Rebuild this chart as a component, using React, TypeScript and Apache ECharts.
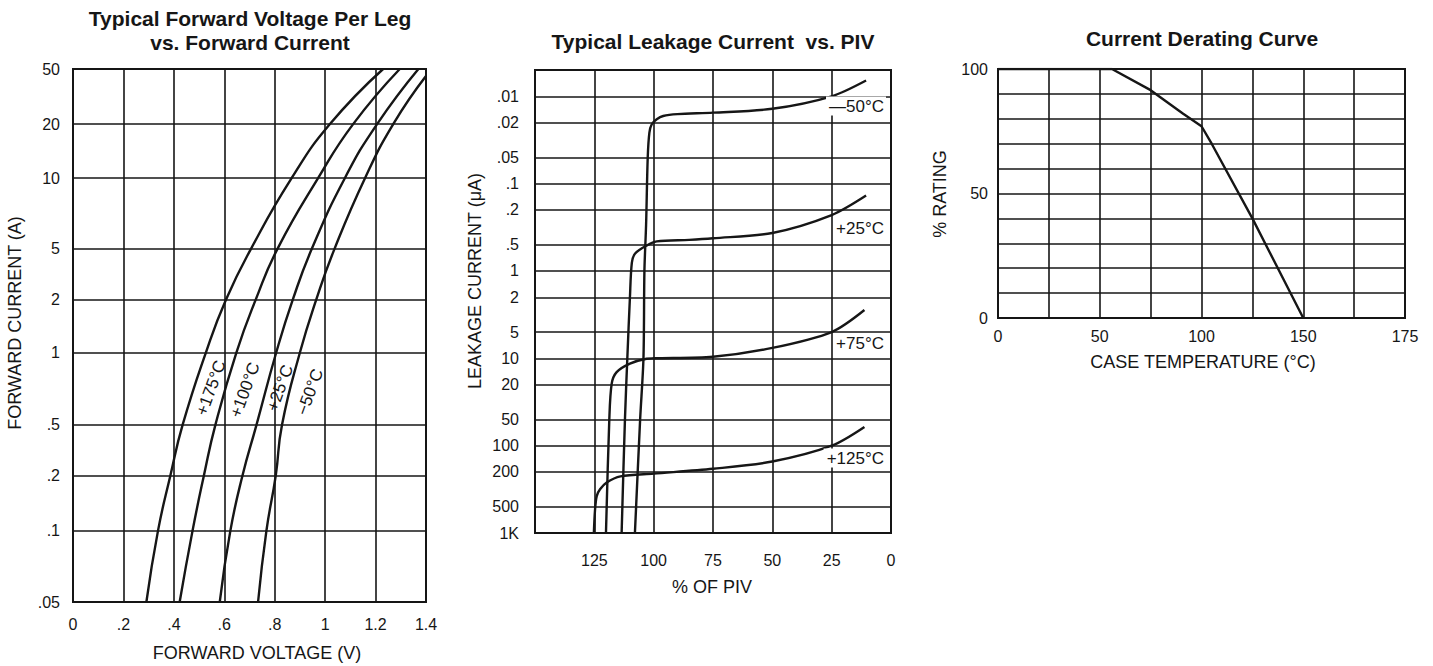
import React, { useEffect, useRef } from 'react';
import * as echarts from 'echarts';

const INK = '#161616';
const FONT = '"Liberation Sans", Arial, sans-serif';

// ---------- Panel 1: Typical Forward Voltage Per Leg vs. Forward Current ----------
const fwdCurrentTicks = [0.05, 0.1, 0.2, 0.5, 1, 2, 5, 10, 20, 50];
const fwdCurrentTickLabels = ['.05', '.1', '.2', '.5', '1', '2', '5', '10', '20', '50'];
const fwdVoltageTickLabels = ['0', '.2', '.4', '.6', '.8', '1', '1.2', '1.4'];
// the printed chart's own (non-uniform) spacing of its current gridlines, axis units
const fwdGridSpacing = [0, 71, 126, 177, 249, 302, 353, 423, 477, 532];

const fwdCurrentPts = [0.05, 0.1, 0.2, 0.5, 1, 2, 5, 10, 20, 50];
const vf175C = [0.291, 0.337, 0.386, 0.435, 0.527, 0.607, 0.707, 0.867, 1.019, 1.23];
const vf100C = [0.423, 0.474, 0.519, 0.565, 0.648, 0.725, 0.812, 0.972, 1.111, 1.296];
const vf25C = [0.582, 0.624, 0.672, 0.728, 0.806, 0.872, 0.948, 1.078, 1.206, 1.37];
const vfM50CCurrent = [0.05, 0.1, 0.2, 0.5, 1, 2, 5, 10, 20, 44.5];
const vfM50C = [0.734, 0.767, 0.804, 0.829, 0.9, 0.965, 1.038, 1.158, 1.27, 1.4];

// ---------- Panel 2: Typical Leakage Current vs. PIV ----------
const leakTicks = [0.01, 0.02, 0.05, 0.1, 0.2, 0.5, 1, 2, 5, 10, 20, 50, 100, 200, 500, 1000];
const leakTickLabels = ['.01', '.02', '.05', '.1', '.2', '.5', '1', '2', '5', '10', '20', '50', '100', '200', '500', '1K'];
const pivTicks = [0, 25, 50, 75, 100, 125];
const pivTickLabels = ['0', '25', '50', '75', '100', '125'];

const leakM50Piv = [10.5, 25, 50, 75, 90, 96, 98.7, 100.8, 101.8, 102.5, 103.2, 103.9, 104.3, 105.7, 107.9];
const leakM50 = [0.0066, 0.01, 0.0139, 0.0154, 0.016, 0.0168, 0.0183, 0.0209, 0.026, 0.05, 0.3, 1, 10, 50, 1000];
const leak25Piv = [10.5, 25, 50, 75, 85, 98.7, 102.9, 107.8, 109.2, 110.0, 111.1, 112.1, 113.5];
const leak25 = [0.137, 0.229, 0.367, 0.422, 0.44, 0.458, 0.51, 0.63, 0.81, 2, 10, 50, 1000];
const leak75Piv = [11.2, 25, 50, 75, 100, 103, 110, 115.6, 117.7, 118.7, 120.1];
const leak75 = [2.8, 5.0, 7.6, 9.6, 10.0, 10.1, 11.5, 14.4, 19.6, 51, 1000];
const leak125Piv = [11.2, 25, 50, 75, 100, 114, 119.8, 122.6, 124, 124.7, 125.2];
const leak125 = [61, 100, 152, 184, 209, 225, 264, 316, 378, 541, 1000];

// ---------- Panel 3: Current Derating Curve ----------
const caseTemp = [0, 56, 75, 91, 100, 105, 125, 150];
const rating = [100, 100, 91.5, 82, 77, 70, 40, 0];
const caseTempLabelValues = [0, 50, 100, 150, 200];
const caseTempLabels = ['0', '50', '100', '150', '175'];
const ratingLabelValues = [0, 50, 100];

// piecewise-log scale following the printed chart's gridline spacing
function fwdScale(I: number): number {
  const L = fwdCurrentTicks.map((t) => Math.log10(t));
  const l = Math.log10(I);
  let i = 0;
  while (i < L.length - 2 && l > L[i + 1]) i++;
  const t = (l - L[i]) / (L[i + 1] - L[i]);
  return fwdGridSpacing[i] + t * (fwdGridSpacing[i + 1] - fwdGridSpacing[i]);
}
const lg = (v: number) => Math.log10(v);

const splitLine = { show: true, lineStyle: { color: INK, width: 1.6 } };
const labelBase = { color: INK, fontSize: 16, fontFamily: FONT };

function lineSeries(name: string, xi: number, data: number[][], smooth: number | boolean) {
  return {
    type: 'line',
    name,
    xAxisIndex: xi,
    yAxisIndex: xi,
    data,
    smooth,
    showSymbol: false,
    symbol: 'none',
    lineStyle: { color: INK, width: 2.4 },
    z: 5,
  };
}

function txt(x: number, y: number, text: string, font: string, extra: any = {}) {
  return {
    type: 'text',
    x,
    y,
    rotation: extra.rotation || 0,
    z: 20,
    style: {
      text,
      font,
      fill: INK,
      textAlign: extra.align || 'center',
      textVerticalAlign: 'middle',
      align: extra.align || 'center',
      verticalAlign: 'middle',
      ...(extra.bg ? { backgroundColor: '#fff', padding: [1, 2, 1, 3] } : {}),
    },
  };
}

const R90 = Math.PI / 2;
const RLAB = (70 * Math.PI) / 180;
const TITLE_FONT = `bold 21px ${FONT}`;
const NAME_FONT = `18px ${FONT}`;
const CURVE_FONT = `17px ${FONT}`;

export default function App() {
  const ref = useRef<HTMLDivElement>(null);
  useEffect(() => {
    const chart = echarts.init(ref.current!, null, { renderer: 'svg' });
    const option: any = {
      animation: false,
      backgroundColor: '#ffffff',
      grid: [
        { left: 73, top: 69, width: 353, height: 533, show: true, borderColor: INK, borderWidth: 2, backgroundColor: 'transparent' },
        { left: 535, top: 70, width: 356, height: 463, show: true, borderColor: INK, borderWidth: 2, backgroundColor: 'transparent' },
        { left: 998, top: 69, width: 407, height: 249, show: true, borderColor: INK, borderWidth: 2, backgroundColor: 'transparent' },
      ],
      xAxis: [
        {
          gridIndex: 0, type: 'value', min: 0, max: 1.4, interval: 0.2,
          axisLine: { show: false }, axisTick: { show: false }, splitLine,
          axisLabel: { ...labelBase, margin: 14, formatter: (v: number) => fwdVoltageTickLabels[Math.round(v / 0.2)] ?? '' },
        },
        {
          gridIndex: 1, type: 'value', min: 0, max: 150, interval: 25, inverse: true,
          axisLine: { show: false }, axisTick: { show: false }, splitLine,
          axisLabel: {
            ...labelBase, margin: 19,
            formatter: (v: number) => {
              const i = pivTicks.indexOf(Math.round(v));
              return i >= 0 ? pivTickLabels[i] : '';
            },
          },
        },
        {
          gridIndex: 2, type: 'value', min: 0, max: 200, interval: 25,
          axisLine: { show: false }, axisTick: { show: false }, splitLine,
          axisLabel: {
            ...labelBase, margin: 10,
            formatter: (v: number) => {
              const i = caseTempLabelValues.indexOf(Math.round(v));
              return i >= 0 ? caseTempLabels[i] : '';
            },
          },
        },
      ],
      yAxis: [
        {
          gridIndex: 0, type: 'value', min: 0, max: fwdGridSpacing[fwdGridSpacing.length - 1],
          axisLine: { show: false }, axisTick: { show: false, customValues: fwdGridSpacing }, splitLine,
          axisLabel: {
            ...labelBase, margin: 13, customValues: fwdGridSpacing,
            formatter: (v: number) => {
              const i = fwdGridSpacing.indexOf(Math.round(v));
              return i >= 0 ? fwdCurrentTickLabels[i] : '';
            },
          },
        },
        {
          gridIndex: 1, type: 'value', min: lg(0.005), max: lg(1000), inverse: true,
          axisLine: { show: false }, axisTick: { show: false, customValues: leakTicks.map(lg) }, splitLine,
          axisLabel: {
            ...labelBase, margin: 16, customValues: leakTicks.map(lg),
            formatter: (v: number) => {
              const i = leakTicks.findIndex((t) => Math.abs(lg(t) - v) < 1e-6);
              return i >= 0 ? leakTickLabels[i] : '';
            },
          },
        },
        {
          gridIndex: 2, type: 'value', min: 0, max: 100, interval: 10,
          axisLine: { show: false }, axisTick: { show: false }, splitLine,
          axisLabel: {
            ...labelBase, margin: 10,
            formatter: (v: number) => (ratingLabelValues.indexOf(Math.round(v)) >= 0 ? String(Math.round(v)) : ''),
          },
        },
      ],
      series: [
        lineSeries('+175°C', 0, vf175C.map((v, i) => [v, fwdScale(fwdCurrentPts[i])]), 0.5),
        lineSeries('+100°C', 0, vf100C.map((v, i) => [v, fwdScale(fwdCurrentPts[i])]), 0.5),
        lineSeries('+25°C', 0, vf25C.map((v, i) => [v, fwdScale(fwdCurrentPts[i])]), 0.5),
        lineSeries('−50°C', 0, vfM50C.map((v, i) => [v, fwdScale(vfM50CCurrent[i])]), 0.5),
        lineSeries('—50°C', 1, leakM50Piv.map((p, i) => [p, lg(leakM50[i])]), 0.3),
        lineSeries('+25°C', 1, leak25Piv.map((p, i) => [p, lg(leak25[i])]), 0.3),
        lineSeries('+75°C', 1, leak75Piv.map((p, i) => [p, lg(leak75[i])]), 0.3),
        lineSeries('+125°C', 1, leak125Piv.map((p, i) => [p, lg(leak125[i])]), 0.3),
        lineSeries('% rating', 2, caseTemp.map((t, i) => [t, rating[i]]), false),
      ],
      graphic: [
        // titles
        txt(250, 18, 'Typical Forward Voltage Per Leg', TITLE_FONT),
        txt(250, 42, 'vs. Forward Current', TITLE_FONT),
        txt(713, 41, 'Typical Leakage Current  vs. PIV', TITLE_FONT),
        txt(1202, 38, 'Current Derating Curve', TITLE_FONT),
        // axis names
        txt(257, 653, 'FORWARD VOLTAGE (V)', NAME_FONT),
        txt(15, 323, 'FORWARD CURRENT (A)', NAME_FONT, { rotation: R90 }),
        txt(712, 587, '% OF PIV', NAME_FONT),
        txt(475, 281, 'LEAKAGE CURRENT (μA)', NAME_FONT, { rotation: R90 }),
        txt(1203, 362, 'CASE TEMPERATURE (°C)', NAME_FONT),
        txt(940, 194, '% RATING', NAME_FONT, { rotation: R90 }),
        // curve labels, panel 1
        txt(211, 388, '+175°C', CURVE_FONT, { rotation: RLAB }),
        txt(245, 390, '+100°C', CURVE_FONT, { rotation: RLAB }),
        txt(280, 388, '+25°C', CURVE_FONT, { rotation: RLAB }),
        txt(310, 392, '−50°C', CURVE_FONT, { rotation: RLAB }),
        // curve labels, panel 2
        txt(886, 106, '—50°C', CURVE_FONT, { align: 'right', bg: true }),
        txt(886, 228, '+25°C', CURVE_FONT, { align: 'right', bg: true }),
        txt(886, 343, '+75°C', CURVE_FONT, { align: 'right', bg: true }),
        txt(886, 458, '+125°C', CURVE_FONT, { align: 'right', bg: true }),
      ],
    };
    chart.setOption(option);
    return () => chart.dispose();
  }, []);
  return (
    <div
      ref={ref}
      style={{ position: 'absolute', left: 0, top: 0, width: 1433, height: 666, background: '#fff' }}
    />
  );
}
